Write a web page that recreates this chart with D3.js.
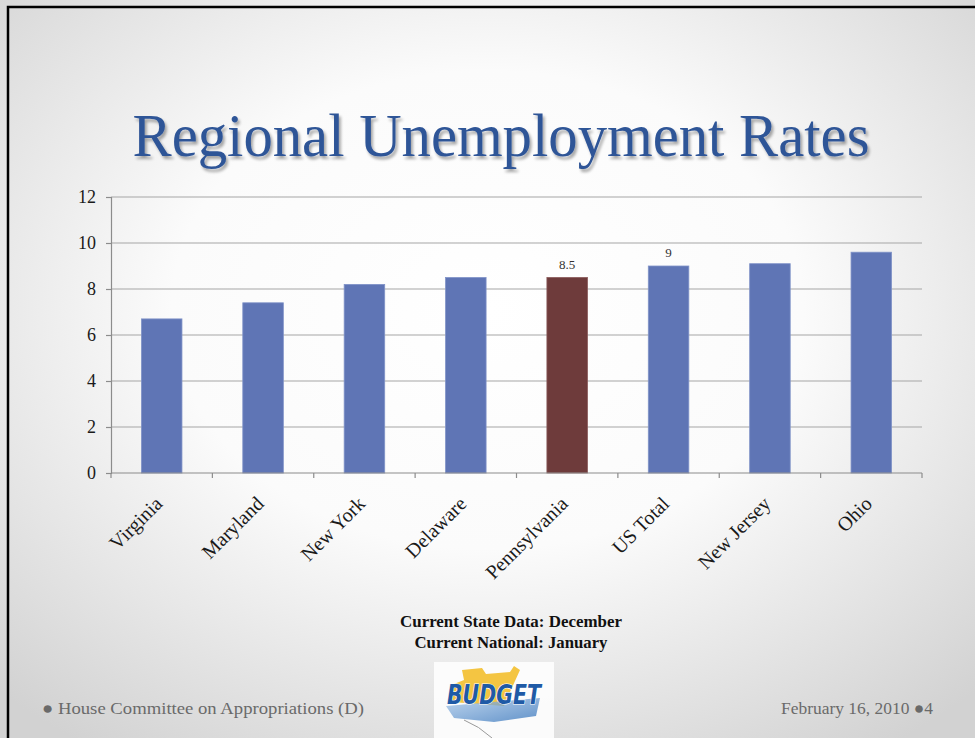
<!DOCTYPE html>
<html>
<head>
<meta charset="utf-8">
<script src="https://cdn.jsdelivr.net/npm/d3@7"></script>
<style>
  html, body { margin: 0; padding: 0; background: #fff; }
  svg { display: block; }
</style>
</head>
<body>
<svg id="slide" width="975" height="738"></svg>
<script>
// Unemployment rate (%) by region
const regions = ["Virginia", "Maryland", "New York", "Delaware", "Pennsylvania", "US Total", "New Jersey", "Ohio"];
const rates = [6.7, 7.4, 8.2, 8.5, 8.5, 9, 9.1, 9.6];
// Regions whose value is printed above the bar
const labelledRegions = ["Pennsylvania", "US Total"];
const highlightRegion = "Pennsylvania";
const yTicks = [0, 2, 4, 6, 8, 10, 12];

const W = 975, H = 738;
const svg = d3.select("#slide");
const defs = svg.append("defs");

// Slide background: soft radial fade from white to light grey
const bg = defs.append("radialGradient").attr("id", "bgGrad")
  .attr("cx", "50%").attr("cy", "42%").attr("r", "72%");
bg.append("stop").attr("offset", "0%").attr("stop-color", "#ffffff");
bg.append("stop").attr("offset", "45%").attr("stop-color", "#fbfbfb");
bg.append("stop").attr("offset", "100%").attr("stop-color", "#d2d2d2");
svg.append("rect").attr("width", W).attr("height", H).attr("fill", "url(#bgGrad)");

// Frame on the top and left edges
svg.append("path").attr("d", `M8,${H} L8,7 L${W},7`)
  .attr("fill", "none").attr("stroke", "#000").attr("stroke-width", 2.5);

// Title with a soft drop shadow
const shadow = defs.append("filter").attr("id", "titleShadow")
  .attr("x", "-5%").attr("y", "-20%").attr("width", "110%").attr("height", "150%");
shadow.append("feGaussianBlur").attr("in", "SourceAlpha").attr("stdDeviation", 1.6).attr("result", "b");
shadow.append("feOffset").attr("in", "b").attr("dx", 2).attr("dy", 3).attr("result", "o");
shadow.append("feComponentTransfer").attr("in", "o").attr("result", "s")
  .append("feFuncA").attr("type", "linear").attr("slope", 0.35);
const mrg = shadow.append("feMerge");
mrg.append("feMergeNode").attr("in", "s");
mrg.append("feMergeNode").attr("in", "SourceGraphic");

svg.append("text")
  .attr("x", 501).attr("y", 156)
  .attr("text-anchor", "middle")
  .attr("font-family", "'Liberation Serif', 'DejaVu Serif', serif")
  .attr("font-size", 61)
  .attr("fill", "#2f5597")
  .attr("textLength", 737).attr("lengthAdjust", "spacingAndGlyphs")
  .attr("filter", "url(#titleShadow)")
  .text("Regional Unemployment Rates");

// Chart geometry
const margin = { left: 111, right: 922, top: 197, bottom: 473 };
const x = d3.scaleBand().domain(regions).range([margin.left, margin.right])
  .paddingInner(0.6).paddingOuter(0.3);
const y = d3.scaleLinear().domain([0, 12]).range([margin.bottom, margin.top]);
const serif = "'Liberation Serif', 'DejaVu Serif', serif";

// Horizontal gridlines
svg.append("g").selectAll("line").data(yTicks.filter(d => d > 0)).join("line")
  .attr("x1", margin.left).attr("x2", margin.right)
  .attr("y1", d => y(d)).attr("y2", d => y(d))
  .attr("stroke", "#a6a6a6").attr("stroke-width", 1.2);

// Y axis
const yAxis = svg.append("g").attr("transform", `translate(${margin.left},0)`)
  .call(d3.axisLeft(y).tickValues(yTicks).tickSize(5).tickPadding(10).tickFormat(d3.format("d")));
yAxis.select(".domain").attr("stroke", "#8c8c8c").attr("stroke-width", 1.2);
yAxis.selectAll(".tick line").attr("stroke", "#8c8c8c").attr("stroke-width", 1.2);
yAxis.selectAll(".tick text").attr("font-family", serif).attr("font-size", 18).attr("fill", "#1a1a1a");

// Bars
svg.append("g").selectAll("rect").data(regions).join("rect")
  .attr("x", d => x(d))
  .attr("width", x.bandwidth())
  .attr("y", (d, i) => y(rates[i]))
  .attr("height", (d, i) => y(0) - y(rates[i]))
  .attr("fill", d => d === highlightRegion ? "#6e3b3b" : "#5f75b5")
  .attr("stroke", d => d === highlightRegion ? "#8a5a5a" : "#8093c8")
  .attr("stroke-width", 0.8);

// X axis with ticks between categories
const step = x.step();
const boundaries = d3.range(regions.length + 1).map(i => margin.left + i * step);
const xg = svg.append("g");
xg.append("line").attr("x1", margin.left).attr("x2", margin.right)
  .attr("y1", y(0)).attr("y2", y(0)).attr("stroke", "#8c8c8c").attr("stroke-width", 1.2);
xg.selectAll("line.tk").data(boundaries).join("line").attr("class", "tk")
  .attr("x1", d => d).attr("x2", d => d)
  .attr("y1", y(0)).attr("y2", y(0) + 5)
  .attr("stroke", "#8c8c8c").attr("stroke-width", 1.2);

// Rotated category labels
xg.selectAll("text").data(regions).join("text")
  .attr("transform", d => `translate(${x(d) + x.bandwidth() / 2 - 3},${y(0) + 27}) rotate(-45)`)
  .attr("text-anchor", "end")
  .attr("dy", "0.35em")
  .attr("font-family", serif).attr("font-size", 20).attr("fill", "#1a1a1a")
  .text(d => d);

// Value labels
svg.append("g").selectAll("text").data(labelledRegions).join("text")
  .attr("x", d => x(d) + x.bandwidth() / 2)
  .attr("y", d => y(rates[regions.indexOf(d)]) - 9)
  .attr("text-anchor", "middle")
  .attr("font-family", serif).attr("font-size", 13).attr("fill", "#333")
  .text(d => d3.format("")(rates[regions.indexOf(d)]));

// Source notes
const notes = ["Current State Data: December", "Current National: January"];
const noteWidths = [222, 193];
svg.append("g").selectAll("text").data(notes).join("text")
  .attr("x", 511).attr("y", (d, i) => 627 + i * 21)
  .attr("text-anchor", "middle")
  .attr("font-family", serif).attr("font-size", 16.5).attr("font-weight", "bold").attr("fill", "#111")
  .attr("textLength", (d, i) => noteWidths[i]).attr("lengthAdjust", "spacingAndGlyphs")
  .text(d => d);

// Footer
svg.append("text").attr("x", 42).attr("y", 714)
  .attr("font-family", serif).attr("font-size", 17.5).attr("fill", "#6a6a6a")
  .attr("textLength", 322).attr("lengthAdjust", "spacingAndGlyphs")
  .text("\u25CF House Committee on Appropriations (D)");
svg.append("text").attr("x", 781).attr("y", 714)
  .attr("font-family", serif).attr("font-size", 17.5).attr("fill", "#6a6a6a")
  .attr("textLength", 152).attr("lengthAdjust", "spacingAndGlyphs")
  .text("February 16, 2010 \u25CF4");

// Budget badge
const logo = svg.append("g").attr("transform", "translate(434,662)");
logo.append("rect").attr("x", 0).attr("y", 0).attr("width", 120).attr("height", 76).attr("fill", "#ffffff").attr("opacity", 0.85);
logo.append("path")
  .attr("d", "M28,8 L48,6 L52,12 L76,10 L80,4 L86,8 L76,30 L70,44 L18,40 L20,22 L30,18 Z")
  .attr("fill", "#f4c542");
const lg = defs.append("linearGradient").attr("id", "logoBlue").attr("x1", "0").attr("x2", "1").attr("y1", "0").attr("y2", "1");
lg.append("stop").attr("offset", "0%").attr("stop-color", "#a9c8ea");
lg.append("stop").attr("offset", "100%").attr("stop-color", "#2e6fb8");
logo.append("path")
  .attr("d", "M12,44 L106,36 L102,54 L60,60 L20,56 Z")
  .attr("fill", "url(#logoBlue)").attr("opacity", 0.75);
logo.append("path").attr("d", "M30,58 Q45,64 58,76").attr("fill", "none").attr("stroke", "#999").attr("stroke-width", 1);
logo.append("text").attr("x", 60).attr("y", 42).attr("text-anchor", "middle")
  .attr("font-family", "'DejaVu Sans', sans-serif").attr("font-weight", "bold").attr("font-style", "italic")
  .attr("font-size", 26).attr("fill", "#1f5aa6").attr("stroke", "#ffffff").attr("stroke-width", 1.2)
  .attr("paint-order", "stroke")
  .attr("textLength", 94).attr("lengthAdjust", "spacingAndGlyphs")
  .text("BUDGET");
</script>
</body>
</html>
